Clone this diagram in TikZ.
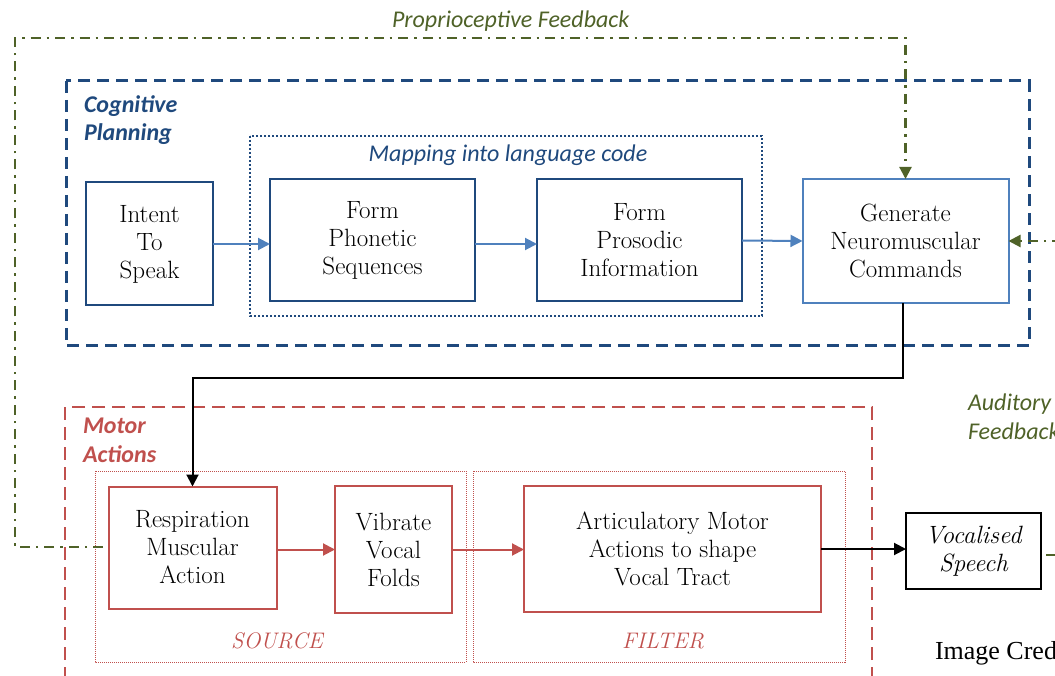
\documentclass[tikz,border=0pt]{standalone}
\usepackage{fontspec}
\newfontfamily\calib{Carlito}
\newfontfamily\timesf{Liberation Serif}
\usetikzlibrary{arrows.meta}
\definecolor{dblue}{HTML}{1F497D}
\definecolor{lblue}{HTML}{4F81BD}
\definecolor{dred}{HTML}{C0504D}
\definecolor{olive}{HTML}{4F6228}
\newcommand{\mybody}{\fontsize{25}{28}\selectfont\addfontfeatures{FakeBold=1.2}}
\newcommand{\mylab}{\calib\fontsize{24}{28}\selectfont}
\begin{document}
\begin{tikzpicture}[x=1pt,y=-1pt,
  every node/.style={inner sep=0pt,outer sep=0pt},
  bbox/.style={draw=dblue,line width=2pt,align=center,font=\mybody},
  lbbox/.style={bbox,draw=lblue},
  rbox/.style={bbox,draw=dred},
  kbox/.style={bbox,draw=black,font=\mybody\itshape},
  tip/.style={-{Triangle[length=12pt,width=12pt]}},
  barrow/.style={tip,draw=lblue,line width=2pt},
  rarrow/.style={tip,draw=dred,line width=2pt},
  karrow/.style={tip,draw=black,line width=2pt},
  garrow/.style={tip,draw=olive,line width=2.2pt,dash pattern=on 10pt off 6pt on 2.5pt off 6pt},
  gline/.style={draw=olive,line width=2.2pt,dash pattern=on 10pt off 6pt on 2.5pt off 6pt},
  cogframe/.style={draw=dblue,line width=3pt,dash pattern=on 12pt off 7pt},
  motframe/.style={draw=dred,line width=2.5pt,dash pattern=on 13pt off 7pt},
  mapframe/.style={draw=dblue,line width=2pt,dash pattern=on 2pt off 2pt},
  srcframe/.style={draw=dred,line width=1pt,dash pattern=on 1pt off 1pt},
  bluelab/.style={font=\mylab\bfseries\itshape,text=dblue,anchor=base west},
  redlab/.style={font=\mylab\bfseries\itshape,text=dred,anchor=base west},
  greenlab/.style={font=\mylab\itshape,text=olive,anchor=base west},
  redcap/.style={font=\fontsize{22.5}{26}\selectfont\itshape,text=dred,anchor=base}
]
\useasboundingbox (0,0) rectangle (1055,676);
\clip (0,0) rectangle (1055,676);

% group frames
\draw[cogframe] (66,81) rectangle (1029,346);
\draw[mapframe] (250,136) rectangle (762,316);
\draw[motframe] (65,407) rectangle (872,720);
\draw[srcframe] (95,471) rectangle (466,662);
\draw[srcframe] (473,471) rectangle (845,662);

% labels
\node[bluelab] (cog1) at (84,112.7) {Cognitive};
\node[bluelab] (cog2) at (84,140.7) {Planning};
\node[redlab] (mot1) at (83,433) {Motor};
\node[redlab] (mot2) at (83,462) {Actions};
\node[font=\mylab\itshape,text=dblue,anchor=base] (maplab) at (508,162) {Mapping into language code};
\node[greenlab] (proplab) at (392,28) {Proprioceptive Feedback};
\node[greenlab] (aud1) at (968,410) {Auditory};
\node[greenlab] (aud2) at (968,439) {Feedback};
\node[redcap] (srclab) at (277,648) {SOURCE};
\node[redcap] (fillab) at (663,648) {FILTER};
\node[font=\timesf\fontsize{26}{30}\selectfont,anchor=base west] (credit) at (935,659) {Image Credit};

% boxes
\node[bbox,minimum width=127pt,minimum height=123pt] (intent) at (149.5,244) {Intent\\To\\Speak};
\node[bbox,minimum width=205pt,minimum height=122pt] (phon) at (372.5,240.5) {Form\\Phonetic\\Sequences};
\node[bbox,minimum width=205pt,minimum height=122pt] (pros) at (639.5,240.5) {Form\\Prosodic\\Information};
\node[lbbox,minimum width=206pt,minimum height=124pt] (gen) at (905.5,241) {Generate\\Neuromuscular\\Commands};
\node[rbox,minimum width=168pt,minimum height=122pt] (resp) at (192.5,547.5) {Respiration\\Muscular\\Action};
\node[rbox,minimum width=117pt,minimum height=127pt] (vib) at (393.5,549.5) {Vibrate\\Vocal\\Folds};
\node[rbox,minimum width=297pt,minimum height=126pt] (art) at (672.5,549) {Articulatory Motor\\Actions to shape\\Vocal Tract};
\node[kbox,minimum width=135pt,minimum height=76pt] (voc) at (973.5,551) {Vocalised\\Speech};

% connectors
\draw[barrow] (intent.east) -- (intent.east -| phon.west);
\draw[barrow] (phon.east |- intent.east) -- (intent.east -| pros.west);
\draw[barrow] (pros.east) -- (gen.west);
\draw[rarrow] (vib.west -| resp.east) -- (vib.west);
\draw[rarrow] (vib.east) -- (vib.east -| art.west);
\draw[karrow] (art.east) -- (art.east -| voc.west);

\coordinate (turn) at (903,378);
\draw[karrow] (gen.south -| turn) -- (turn) -| (resp.north);

\coordinate (pfStart) at (103,547);
\coordinate (pfBL) at (15,547);
\coordinate (pfTL) at (15,38);
\draw[garrow] (pfStart) -- (pfBL) -- (pfTL) -| (gen.north);

\coordinate (audR) at (1062,241);
\draw[garrow] (audR) -- (gen.east);

\coordinate (vocR) at (1062,555);
\coordinate (vocS) at (1046,555);
\draw[gline] (vocS) -- (vocR);
\end{tikzpicture}
\end{document}
